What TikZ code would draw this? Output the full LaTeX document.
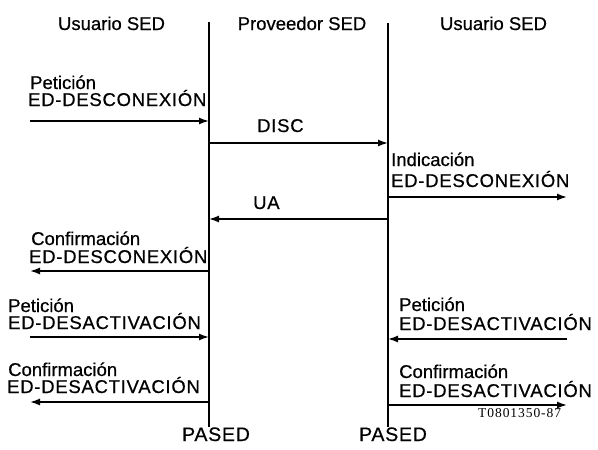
\documentclass[tikz,border=0pt]{standalone}
\usepackage{fontspec}
\setmainfont[FakeBold=0.6]{Liberation Sans}
\newfontfamily\capsfont[FakeBold=0.6,LetterSpace=4]{Liberation Sans}
\newfontfamily\codefont[LetterSpace=7]{Liberation Serif}
\usetikzlibrary{arrows.meta}
\begin{document}
\begin{tikzpicture}[x=1pt,y=-1pt,
  lbl/.style={anchor=base west,inner sep=0pt,font=\fontsize{18.5}{18.5}\selectfont},
  caplbl/.style={anchor=base west,inner sep=0pt,font=\capsfont\fontsize{18.5}{18.5}\selectfont},
  hdr/.style={anchor=base,inner sep=0pt,font=\fontsize{18.5}{18.5}\selectfont},
  life/.style={line width=1.5pt},
  msg/.style={line width=1.5pt,-{Latex[length=10pt,width=7pt]}}]
\useasboundingbox (0,0) rectangle (598,450);
% headers
\node[hdr] (h1) at (111.5,30) {Usuario SED};
\node[hdr] (h2) at (302,30) {Proveedor SED};
\node[hdr] (h3) at (493.5,30) {Usuario SED};
% lifelines
\coordinate (Atop) at (209,22);
\coordinate (Abot) at (209,427);
\coordinate (Btop) at (388,23);
\coordinate (Bbot) at (388,427);
\draw[life] (Atop) -- (Abot);
\draw[life] (Btop) -- (Bbot);
\node[hdr,font=\capsfont\fontsize{19.5}{19.5}\selectfont] (pa) at (216,441) {PASED};
\node[hdr,font=\capsfont\fontsize{19.5}{19.5}\selectfont] (pb) at (393,441) {PASED};
% message end points
\coordinate (x1) at (30,121);  \coordinate (A1) at (209,121);
\coordinate (A2) at (209,143); \coordinate (B2) at (388,143);
\coordinate (B3) at (388,197); \coordinate (y3) at (567,197);
\coordinate (B4) at (388,219); \coordinate (A4) at (209,219);
\coordinate (A5) at (209,271); \coordinate (x5) at (30,271);
\coordinate (x6) at (30,337);  \coordinate (A6) at (209,337);
\coordinate (A7) at (209,402); \coordinate (x7) at (30,402);
\coordinate (y8) at (567,339); \coordinate (B8) at (388,339);
\coordinate (B9) at (388,405); \coordinate (y9) at (567,405);
% messages
\draw[msg] (x1) -- (A1);
\draw[msg] (A2) -- (B2);
\draw[msg] (B3) -- (y3);
\draw[msg] (B4) -- (A4);
\draw[msg] (A5) -- (x5);
\draw[msg] (x6) -- (A6);
\draw[msg] (A7) -- (x7);
\draw[msg] (y8) -- (B8);
\draw[msg] (B9) -- (y9);
% labels
\node[lbl] (l1a) at (30,89) {Petición};
\node[caplbl] (l1b) at (28,106) {ED-DESCONEXIÓN};
\node[caplbl] (l2) at (257,132) {DISC};
\node[lbl] (l3a) at (391,166) {Indicación};
\node[caplbl] (l3b) at (391,187) {ED-DESCONEXIÓN};
\node[caplbl] (l4) at (253,209) {UA};
\node[lbl] (l5a) at (31,245) {Confirmación};
\node[caplbl] (l5b) at (29,263) {ED-DESCONEXIÓN};
\node[lbl] (l6a) at (8,312) {Petición};
\node[caplbl] (l6b) at (8,329) {ED-DESACTIVACIÓN};
\node[lbl] (l7a) at (8,376) {Confirmación};
\node[caplbl] (l7b) at (7,393) {ED-DESACTIVACIÓN};
\node[lbl] (l8a) at (399,311) {Petición};
\node[caplbl] (l8b) at (399,330) {ED-DESACTIVACIÓN};
\node[lbl] (l9a) at (399,378) {Confirmación};
\node[caplbl] (l9b) at (399,397) {ED-DESACTIVACIÓN};
\node[anchor=base west,inner sep=0pt,font=\codefont\fontsize{13.5}{13.5}\selectfont] (code) at (478,417) {T0801350-87};
\end{tikzpicture}
\end{document}
